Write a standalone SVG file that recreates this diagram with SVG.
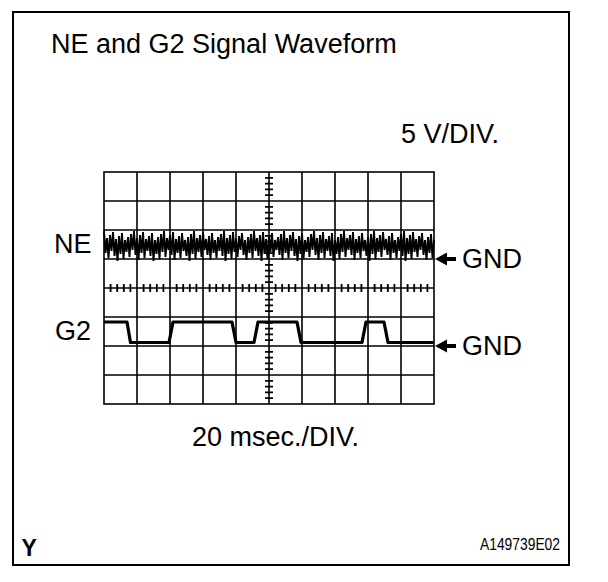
<svg xmlns="http://www.w3.org/2000/svg" xmlns:xlink="http://www.w3.org/1999/xlink" width="608" height="582" viewBox="0 0 608 582">
  <style>
    .t { font-family: "Liberation Sans", Arial, sans-serif; font-size: 27px; fill: #000; }
    .grid { fill: none; stroke: #000; stroke-width: 1.6; }
    .tick { fill: none; stroke: #000; stroke-width: 1.8; }
    .ne { fill: none; stroke: #000; stroke-width: 1.9; stroke-linejoin: miter; }
    .g2 { fill: none; stroke: #000; stroke-width: 3.2; stroke-linejoin: round; }
  </style>
  <defs>
    <path id="gndArrow" d="M0,0 L12,-6.5 V-2 H21 V2 H12 V6.5 Z" fill="#000"/>
  </defs>
  <rect width="608" height="582" fill="#fff"/>
  <g id="frame">
    <rect x="13" y="12" width="556" height="553" fill="none" stroke="#000" stroke-width="2"/>
  </g>
  <g id="title">
    <text class="t" x="51" y="53">NE and G2 Signal Waveform</text>
  </g>
  <g id="scale-labels">
    <text class="t" x="401" y="143">5 V/DIV.</text>
    <text class="t" x="192" y="446">20 msec./DIV.</text>
  </g>
  <g id="grid">
    <rect class="grid" x="104" y="172" width="330" height="232"/>
    <path class="grid" d="M137,172V404 M170,172V404 M203,172V404 M236,172V404 M269,172V404 M302,172V404 M335,172V404 M368,172V404 M401,172V404 M104,201H434 M104,230H434 M104,259H434 M104,288H434 M104,317H434 M104,346H434 M104,375H434"/>
    <path class="tick" d="M265,177.8h8 M265,183.6h8 M265,189.4h8 M265,195.2h8 M265,206.8h8 M265,212.6h8 M265,218.4h8 M265,224.2h8 M265,235.8h8 M265,241.6h8 M265,247.4h8 M265,253.2h8 M265,264.8h8 M265,270.6h8 M265,276.4h8 M265,282.2h8 M265,293.8h8 M265,299.6h8 M265,305.4h8 M265,311.2h8 M265,322.8h8 M265,328.6h8 M265,334.4h8 M265,340.2h8 M265,351.8h8 M265,357.6h8 M265,363.4h8 M265,369.2h8 M265,380.8h8 M265,386.6h8 M265,392.4h8 M265,398.2h8"/>
    <path class="tick" d="M110.6,284v8 M117.2,284v8 M123.8,284v8 M130.4,284v8 M143.6,284v8 M150.2,284v8 M156.8,284v8 M163.4,284v8 M176.6,284v8 M183.2,284v8 M189.8,284v8 M196.4,284v8 M209.6,284v8 M216.2,284v8 M222.8,284v8 M229.4,284v8 M242.6,284v8 M249.2,284v8 M255.8,284v8 M262.4,284v8 M275.6,284v8 M282.2,284v8 M288.8,284v8 M295.4,284v8 M308.6,284v8 M315.2,284v8 M321.8,284v8 M328.4,284v8 M341.6,284v8 M348.2,284v8 M354.8,284v8 M361.4,284v8 M374.6,284v8 M381.2,284v8 M387.8,284v8 M394.4,284v8 M407.6,284v8 M414.2,284v8 M420.8,284v8 M427.4,284v8"/>
  </g>
  <g id="ne-trace">
    <polyline class="ne" points="104,231 105.5,253 107,238 108.5,258 110,235 111.5,251 113,232 114.5,256 116,239 117.5,261 119,236 120.5,254 122,233 123.5,259 125,240 126.5,252 128,237 129.5,257 131,234 132.5,250 134,231 135.5,255 137,238 138.5,260 140,235 141.5,253 143,232 144.5,258 146,239 147.5,251 149,236 150.5,256 152,233 153.5,261 155,240 156.5,254 158,237 159.5,259 161,234 162.5,252 164,231 165.5,257 167,238 168.5,250 170,235 171.5,255 173,232 174.5,260 176,239 177.5,253 179,236 180.5,258 182,233 183.5,251 185,240 186.5,256 188,237 189.5,261 191,234 192.5,254 194,231 195.5,259 197,238 198.5,252 200,235 201.5,257 203,232 204.5,250 206,239 207.5,255 209,236 210.5,260 212,233 213.5,253 215,240 216.5,258 218,237 219.5,251 221,234 222.5,256 224,231 225.5,261 227,238 228.5,254 230,235 231.5,259 233,232 234.5,252 236,239 237.5,257 239,236 240.5,250 242,233 243.5,255 245,240 246.5,260 248,237 249.5,253 251,234 252.5,258 254,231 255.5,251 257,238 258.5,256 260,235 261.5,261 263,232 264.5,254 266,239 267.5,259 269,236 270.5,252 272,233 273.5,257 275,240 276.5,250 278,237 279.5,255 281,234 282.5,260 284,231 285.5,253 287,238 288.5,258 290,235 291.5,251 293,232 294.5,256 296,239 297.5,261 299,236 300.5,254 302,233 303.5,259 305,240 306.5,252 308,237 309.5,257 311,234 312.5,250 314,231 315.5,255 317,238 318.5,260 320,235 321.5,253 323,232 324.5,258 326,239 327.5,251 329,236 330.5,256 332,233 333.5,261 335,240 336.5,254 338,237 339.5,259 341,234 342.5,252 344,231 345.5,257 347,238 348.5,250 350,235 351.5,255 353,232 354.5,260 356,239 357.5,253 359,236 360.5,258 362,233 363.5,251 365,240 366.5,256 368,237 369.5,261 371,234 372.5,254 374,231 375.5,259 377,238 378.5,252 380,235 381.5,257 383,232 384.5,250 386,239 387.5,255 389,236 390.5,260 392,233 393.5,253 395,240 396.5,258 398,237 399.5,251 401,234 402.5,256 404,231 405.5,261 407,238 408.5,254 410,235 411.5,259 413,232 414.5,252 416,239 417.5,257 419,236 420.5,250 422,233 423.5,255 425,240 426.5,260 428,237 429.5,253 431,234 432.5,258 434,240"/>
  </g>
  <g id="g2-trace">
    <polyline class="g2" points="104,322 127,322 130.5,342.5 169,342.5 173,322 232,322 236,342.5 254,342.5 258,322 297,322 301,342.5 362,342.5 366,322 384,322 388,342.5 434,342.5"/>
  </g>
  <g id="channel-labels">
    <text class="t" x="54" y="253">NE</text>
    <text class="t" x="55" y="340">G2</text>
  </g>
  <g id="connectors">
    <use xlink:href="#gndArrow" x="435" y="259"/>
    <use xlink:href="#gndArrow" x="435" y="346"/>
  </g>
  <g id="gnd-labels">
    <text class="t" x="462" y="268">GND</text>
    <text class="t" x="462" y="355">GND</text>
  </g>
  <g id="footer">
    <text x="21.5" y="556" font-family="Liberation Sans, Arial, sans-serif" font-size="23" font-weight="bold">Y</text>
    <text x="560" y="550" text-anchor="end" font-family="Liberation Sans, Arial, sans-serif" font-size="16" textLength="80" lengthAdjust="spacingAndGlyphs">A149739E02</text>
  </g>
</svg>
